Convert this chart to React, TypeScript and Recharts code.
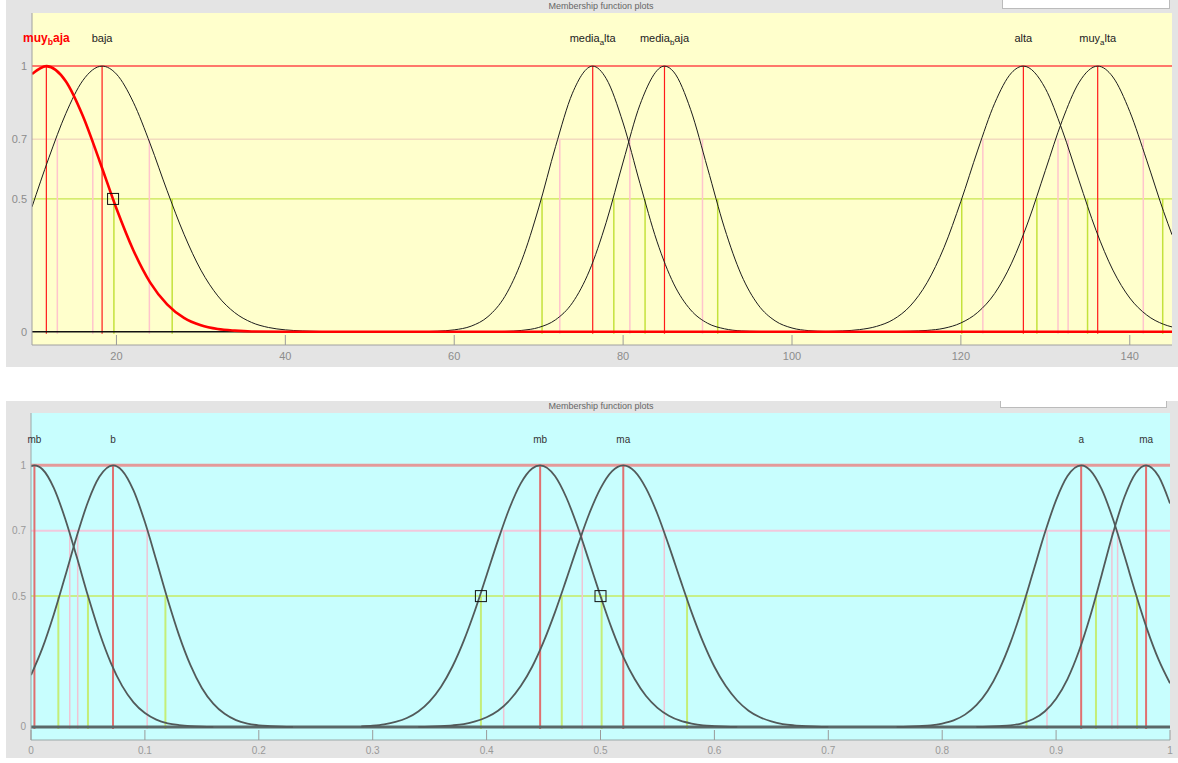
import React from 'react'
import { LineChart, Line, XAxis, YAxis, CartesianGrid, ReferenceLine, ReferenceDot } from 'recharts'

const FONT = '"Liberation Sans", Arial, sans-serif'

// ---------- top plot (10 .. 145)
const topXTicks = [20, 40, 60, 80, 100, 120, 140]
// the line labelled "0.7" sits a little above 0.7 in the picture
const topYTicks = [0, 0.5, 0.725, 1]
const topYLabels = ['0', '0.5', '0.7', '1']
const topNames = ['muy_baja', 'baja', 'media_alta', 'media_baja', 'alta', 'muy_alta']
const topPeaks = [11.7, 18.3, 76.4, 84.9, 127.4, 136.2]
const topPinkX = [13.0, 17.2, 23.9, 72.5, 80.8, 89.4, 122.6, 131.5, 132.7, 141.6]
const topGreenX = [19.7, 26.6, 70.4, 78.9, 82.6, 91.2, 120.1, 129.0, 135.0, 143.9]
const topBoxes = [{ x: 19.6, y: 0.5 }]

const muyBajaX = [10, 11.7, 14, 16, 18, 20, 22, 24, 26, 28, 30, 32, 34, 36, 40, 145]
const muyBajaY = [0.97, 1, 0.943, 0.814, 0.643, 0.464, 0.307, 0.185, 0.103, 0.052, 0.024, 0.01, 0.004, 0.001, 0, 0]
const bajaX = [10, 12, 14, 16, 18.3, 20, 22, 24, 26, 28, 30, 32, 34, 36, 38, 40, 42, 44, 46]
const bajaY = [0.47, 0.655, 0.821, 0.945, 1, 0.97, 0.864, 0.707, 0.531, 0.367, 0.232, 0.135, 0.072, 0.035, 0.016, 0.007, 0.003, 0.001, 0]
const mediaAltaX = [56, 58, 60, 62, 64, 66, 68, 70, 72, 74, 76.4, 78, 80, 82, 84, 86, 88, 90, 92, 94, 96, 98]
const mediaAltaY = [0, 0.002, 0.007, 0.021, 0.057, 0.133, 0.269, 0.466, 0.697, 0.898, 1, 0.953, 0.786, 0.558, 0.341, 0.18, 0.082, 0.032, 0.011, 0.003, 0.001, 0]
const mediaBajaX = [64, 66, 68, 70, 72, 74, 76, 78, 80, 82, 84.9, 86, 88, 90, 92, 94, 96, 98, 100, 102, 104, 106]
const mediaBajaY = [0, 0.001, 0.005, 0.016, 0.045, 0.109, 0.229, 0.412, 0.639, 0.855, 1, 0.978, 0.836, 0.616, 0.391, 0.214, 0.101, 0.041, 0.014, 0.004, 0.001, 0]
const altaX = [102, 104, 106, 108, 110, 112, 114, 116, 118, 120, 122, 124, 126, 127.4, 130, 132, 134, 136, 138, 140, 142, 144, 145]
const altaY = [0, 0.001, 0.003, 0.008, 0.02, 0.046, 0.097, 0.185, 0.317, 0.491, 0.684, 0.86, 0.975, 1, 0.916, 0.759, 0.568, 0.382, 0.232, 0.127, 0.063, 0.028, 0.018]
const muyAltaX = [110, 112, 114, 116, 118, 120, 122, 124, 126, 128, 130, 132, 134, 136.2, 138, 140, 142, 144, 145]
const muyAltaY = [0, 0.0005, 0.002, 0.005, 0.013, 0.033, 0.073, 0.144, 0.258, 0.417, 0.607, 0.795, 0.939, 1, 0.959, 0.829, 0.646, 0.453, 0.365]

// ---------- bottom plot (0 .. 1)
const botXTicks = [0, 0.1, 0.2, 0.3, 0.4, 0.5, 0.6, 0.7, 0.8, 0.9, 1]
const botYTicks = [0, 0.5, 0.75, 1]
const botYLabels = ['0', '0.5', '0.7', '1']
const botNames = ['mb', 'b', 'mb', 'ma', 'a', 'ma']
const botPeaks = [0.003, 0.072, 0.447, 0.52, 0.922, 0.979]
const botPinkX = [0.034, 0.041, 0.102, 0.415, 0.484, 0.556, 0.892, 0.949, 0.954]
const botGreenX = [0.024, 0.05, 0.118, 0.395, 0.466, 0.501, 0.576, 0.874, 0.935, 0.971]
const botBoxes = [{ x: 0.395, y: 0.5 }, { x: 0.5, y: 0.5 }]

const mbX = [0, 0.003, 0.01, 0.02, 0.03, 0.04, 0.05, 0.06, 0.07, 0.08, 0.09, 0.1, 0.11, 0.12, 0.13, 0.14, 0.15, 0.16]
const mbY = [0.997, 1, 0.985, 0.914, 0.796, 0.652, 0.501, 0.362, 0.246, 0.157, 0.094, 0.053, 0.028, 0.014, 0.007, 0.003, 0.001, 0]
const bX = [0, 0.01, 0.02, 0.03, 0.04, 0.05, 0.06, 0.072, 0.08, 0.09, 0.1, 0.11, 0.12, 0.13, 0.14, 0.15, 0.16, 0.17, 0.18, 0.19, 0.2, 0.21, 0.22, 0.23]
const bY = [0.198, 0.301, 0.43, 0.576, 0.726, 0.86, 0.956, 1, 0.98, 0.904, 0.783, 0.637, 0.487, 0.35, 0.236, 0.149, 0.089, 0.05, 0.026, 0.013, 0.006, 0.003, 0.001, 0]
const mb2X = [0.29, 0.3, 0.31, 0.32, 0.33, 0.34, 0.35, 0.36, 0.37, 0.38, 0.39, 0.4, 0.41, 0.42, 0.43, 0.44, 0.447, 0.46, 0.47, 0.48, 0.49, 0.5, 0.51, 0.52, 0.53, 0.54, 0.55, 0.56, 0.57, 0.58, 0.59, 0.6, 0.61, 0.62]
const mb2Y = [0.002, 0.005, 0.01, 0.019, 0.034, 0.059, 0.098, 0.154, 0.231, 0.33, 0.448, 0.58, 0.713, 0.835, 0.931, 0.988, 1, 0.959, 0.877, 0.764, 0.633, 0.5, 0.375, 0.268, 0.183, 0.118, 0.073, 0.043, 0.024, 0.013, 0.006, 0.003, 0.001, 0]
const maX = [0.34, 0.35, 0.36, 0.37, 0.38, 0.39, 0.4, 0.41, 0.42, 0.43, 0.44, 0.45, 0.46, 0.47, 0.48, 0.49, 0.5, 0.51, 0.52, 0.53, 0.54, 0.55, 0.56, 0.57, 0.58, 0.59, 0.6, 0.61, 0.62, 0.63, 0.64, 0.65, 0.66, 0.67, 0.68, 0.69, 0.7]
const maY = [0, 0.001, 0.003, 0.006, 0.011, 0.021, 0.037, 0.062, 0.101, 0.156, 0.23, 0.325, 0.438, 0.564, 0.693, 0.814, 0.912, 0.977, 1, 0.977, 0.912, 0.814, 0.693, 0.564, 0.438, 0.325, 0.23, 0.156, 0.101, 0.062, 0.037, 0.021, 0.011, 0.006, 0.003, 0.001, 0]
const aX = [0.76, 0.77, 0.78, 0.79, 0.8, 0.81, 0.82, 0.83, 0.84, 0.85, 0.86, 0.87, 0.88, 0.89, 0.9, 0.91, 0.922, 0.93, 0.94, 0.95, 0.96, 0.97, 0.98, 0.99, 1]
const aY = [0, 0.001, 0.003, 0.006, 0.013, 0.025, 0.047, 0.083, 0.138, 0.218, 0.323, 0.451, 0.595, 0.74, 0.867, 0.959, 1, 0.981, 0.909, 0.794, 0.654, 0.508, 0.372, 0.257, 0.167]
const ma2X = [0.83, 0.84, 0.85, 0.86, 0.87, 0.88, 0.89, 0.9, 0.91, 0.92, 0.93, 0.94, 0.95, 0.96, 0.97, 0.979, 0.99, 1]
const ma2Y = [0, 0.001, 0.003, 0.006, 0.014, 0.03, 0.059, 0.108, 0.183, 0.289, 0.424, 0.581, 0.741, 0.879, 0.971, 1, 0.958, 0.854]

const pts = (xs: number[], ys: number[]) => xs.map((x, i) => ({ x, y: ys[i] }))

const texLabel = (name: string, color: string, size: number, bold: boolean) => (p: any) => {
  const i = name.indexOf('_')
  const common = { x: p.cx, y: p.cy + 4, textAnchor: 'middle' as const, fill: color, fontSize: size, fontFamily: FONT, fontWeight: bold ? 700 : 400 }
  if (i < 0) return <text {...common}>{name}</text>
  return (
    <text {...common}>
      {name.slice(0, i)}
      <tspan dy={3} fontSize={size * 0.72}>{name[i + 1]}</tspan>
      <tspan dy={-3}>{name.slice(i + 2)}</tspan>
    </text>
  )
}

const boxShape = (p: any) => (
  <rect x={p.cx - 5.5} y={p.cy - 5.5} width={11} height={11} fill="none" stroke="#111" strokeWidth={1} />
)

const bottomTick = (color: string, size: number, dy: number) => (p: any) => (
  <g>
    <line x1={p.x} x2={p.x} y1={p.y} y2={p.y - 10} stroke="#9a9a9a" />
    <text x={p.x} y={p.y + dy} textAnchor="middle" fill={color} fontSize={size} fontFamily={FONT}>{p.payload.value}</text>
  </g>
)
const topTick = (p: any) => <line x1={p.x} x2={p.x} y1={p.y} y2={p.y + 10} stroke="#9a9a9a" />

const vlines = (xs: number[], top: number, color: string, w: number, k: string) =>
  xs.map((x, i) => (
    <ReferenceLine key={k + i} segment={[{ x, y: -0.008 }, { x, y: top }]} stroke={color} strokeWidth={w} />
  ))

function Panel({ top, height, children }: { top: number; height: number; children: React.ReactNode }) {
  return (
    <div style={{ position: 'absolute', left: 6, top, width: 1172, height, background: '#e4e4e4', overflow: 'hidden' }}>
      {children}
    </div>
  )
}

function TopChart() {
  const curves = [
    { x: bajaX, y: bajaY },
    { x: mediaAltaX, y: mediaAltaY },
    { x: mediaBajaX, y: mediaBajaY },
    { x: altaX, y: altaY },
    { x: muyAltaX, y: muyAltaY },
  ]
  const lvl = topYTicks[2]
  return (
    <LineChart width={1172} height={367} margin={{ top: 13, right: 6, bottom: 0, left: 6 }}>
      <CartesianGrid fill="#ffffcc" horizontal={false} vertical={false} />
      <XAxis dataKey="x" type="number" domain={[10, 145]} allowDataOverflow ticks={topXTicks} interval={0} height={22}
        tickSize={0} tickMargin={0} tickLine={false} axisLine={{ stroke: '#a0a0a0' }} tick={bottomTick('#8c8c8c', 11, 15)} />
      <XAxis xAxisId="top" orientation="top" dataKey="x" type="number" domain={[10, 145]} allowDataOverflow ticks={topXTicks} interval={0} height={0}
        tickSize={0} tickMargin={0} tickLine={false} axisLine={{ stroke: '#a0a0a0' }} tick={topTick} />
      <YAxis type="number" domain={[-0.05, 1.2]} allowDataOverflow ticks={topYTicks} interval={0} width={20} tickSize={0} tickMargin={5}
        tickFormatter={(v: number) => topYLabels[topYTicks.indexOf(v)]}
        tickLine={false} axisLine={{ stroke: '#a0a0a0' }} tick={{ fill: '#8c8c8c', fontSize: 11, fontFamily: FONT }} />
      <YAxis yAxisId="r" orientation="right" type="number" domain={[-0.05, 1.2]} allowDataOverflow width={0} tick={false} tickLine={false} axisLine={{ stroke: '#a0a0a0' }} />
      <ReferenceLine y={lvl} stroke="#ecc8b8" strokeWidth={1} />
      <ReferenceLine y={0.5} stroke="#c8e650" strokeWidth={1.2} />
      <ReferenceLine y={1} stroke="#ff4a4a" strokeWidth={1.5} />
      {vlines(topPinkX, lvl, '#ffc4cc', 1.5, 'tp')}
      {vlines(topGreenX, 0.5, '#c4e23c', 1.5, 'tg')}
      {vlines(topPeaks, 1, '#ff1a1a', 1.2, 'tr')}
      <ReferenceLine y={0} stroke="#111" strokeWidth={1.5} />
      {curves.map((c, i) => (
        <Line key={i} data={pts(c.x, c.y)} dataKey="y" type="monotone" dot={false} stroke="#1c1c1c" strokeWidth={1} isAnimationActive={false} />
      ))}
      <Line data={pts(muyBajaX, muyBajaY)} dataKey="y" type="monotone" dot={false} stroke="#ff0000" strokeWidth={2.6} isAnimationActive={false} />
      {topBoxes.map((b, i) => <ReferenceDot key={'tb' + i} x={b.x} y={b.y} r={0} shape={boxShape} />)}
      {topNames.map((n, i) => (
        <ReferenceDot key={'tl' + i} x={topPeaks[i]} y={1.105} r={0}
          shape={texLabel(n, i === 0 ? '#ff0000' : '#222', i === 0 ? 12 : 11, i === 0)} />
      ))}
    </LineChart>
  )
}

function BottomChart() {
  const curves = [
    { x: mbX, y: mbY },
    { x: bX, y: bY },
    { x: mb2X, y: mb2Y },
    { x: maX, y: maY },
    { x: aX, y: aY },
    { x: ma2X, y: ma2Y },
  ]
  const lvl = botYTicks[2]
  return (
    <LineChart width={1172} height={355} margin={{ top: 10, right: 8, bottom: 0, left: 5 }}>
      <CartesianGrid fill="#c8fefe" horizontal={false} vertical={false} />
      <XAxis dataKey="x" type="number" domain={[0, 1]} allowDataOverflow ticks={botXTicks} interval={0} height={18}
        tickSize={0} tickMargin={0} tickLine={false} axisLine={{ stroke: '#9aa8a8' }} tick={bottomTick('#999', 10, 14)} />
      <XAxis xAxisId="top" orientation="top" dataKey="x" type="number" domain={[0, 1]} allowDataOverflow ticks={botXTicks} interval={0} height={0}
        tickSize={0} tickMargin={0} tickLine={false} axisLine={{ stroke: '#9aa8a8' }} tick={topTick} />
      <YAxis type="number" domain={[-0.05, 1.2]} allowDataOverflow ticks={botYTicks} interval={0} width={20} tickSize={0} tickMargin={5}
        tickFormatter={(v: number) => botYLabels[botYTicks.indexOf(v)]}
        tickLine={false} axisLine={{ stroke: '#9aa8a8' }} tick={{ fill: '#999', fontSize: 10, fontFamily: FONT }} />
      <YAxis yAxisId="r" orientation="right" type="number" domain={[-0.05, 1.2]} allowDataOverflow width={0} tick={false} tickLine={false} axisLine={{ stroke: '#9aa8a8' }} />
      <ReferenceLine y={lvl} stroke="#f2c8dc" strokeWidth={2} />
      <ReferenceLine y={0.5} stroke="#c6f08a" strokeWidth={2} />
      <ReferenceLine y={1} stroke="#e49a9a" strokeWidth={3} />
      {vlines(botPinkX, lvl, '#f0c4d4', 1.5, 'bp')}
      {vlines(botGreenX, 0.5, '#c4ee78', 2, 'bg')}
      {vlines(botPeaks, 1, '#e07070', 2, 'br')}
      <ReferenceLine y={0} stroke="#5a6868" strokeWidth={3} />
      {curves.map((c, i) => (
        <Line key={i} data={pts(c.x, c.y)} dataKey="y" type="monotone" dot={false} stroke="#525a5a" strokeWidth={1.8} isAnimationActive={false} />
      ))}
      {botBoxes.map((b, i) => <ReferenceDot key={'bb' + i} x={b.x} y={b.y} r={0} shape={boxShape} />)}
      {botNames.map((n, i) => (
        <ReferenceDot key={'bl' + i} x={botPeaks[i]} y={1.1} r={0} shape={texLabel(n, '#333', 10, false)} />
      ))}
    </LineChart>
  )
}

export default function App() {
  const title = { position: 'absolute' as const, left: 0, width: 1190, textAlign: 'center' as const, fontSize: 9, color: '#666', fontFamily: FONT, lineHeight: '10px' }
  return (
    <div style={{ position: 'absolute', left: 0, top: 0, width: 1178, height: 763, background: '#fff', overflow: 'hidden' }}>
      <Panel top={0} height={367}>
        <div style={{ ...title, top: 1 }}>Membership function plots</div>
        <div style={{ position: 'absolute', left: 996, top: -1, width: 166, height: 8, background: '#fff', border: '1px solid #bbb' }} />
        <TopChart />
      </Panel>
      <Panel top={401} height={357}>
        <div style={{ ...title, top: 0 }}>Membership function plots</div>
        <div style={{ position: 'absolute', left: 994, top: -1, width: 165, height: 6, background: '#fff', border: '1px solid #bbb' }} />
        <div style={{ position: 'absolute', left: 0, top: 2, width: 1172, height: 355 }}>
          <BottomChart />
        </div>
      </Panel>
    </div>
  )
}
